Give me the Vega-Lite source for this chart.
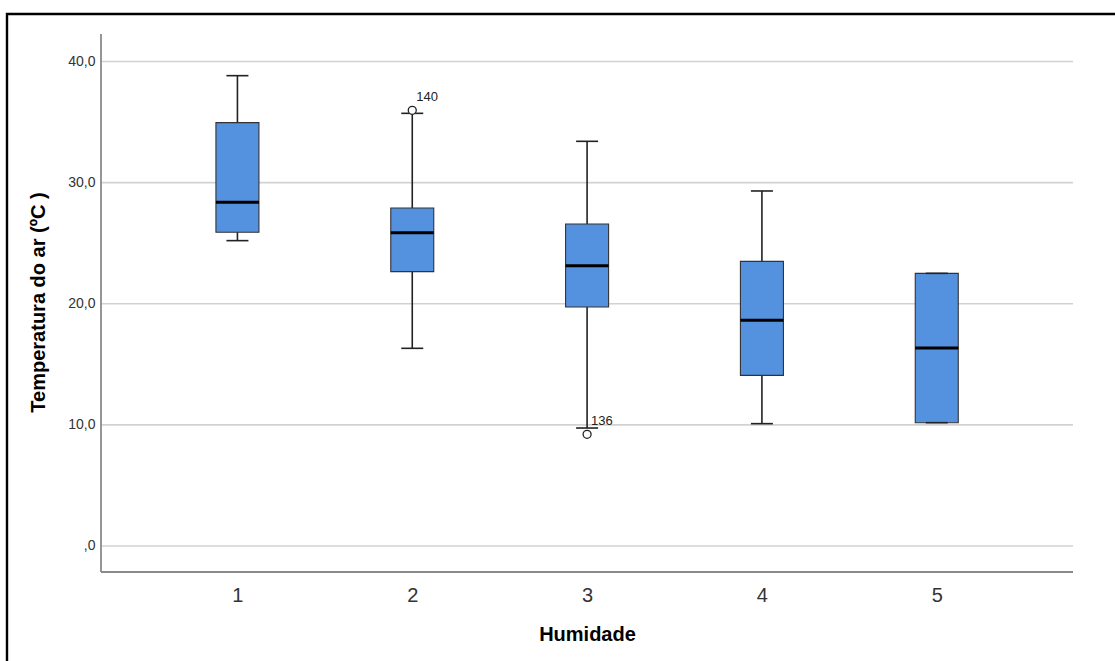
{
  "$schema": "https://vega.github.io/schema/vega-lite/v6.json",
  "width": 1112,
  "height": 651,
  "autosize": {"type": "none"},
  "padding": {"left": 7, "top": 14, "right": -4, "bottom": -4},
  "background": "white",
  "config": {
    "view": {"stroke": "#000000", "strokeWidth": 2.4},
    "font": "Liberation Sans"
  },
  "datasets": {
    "boxes": [
      {"h": 1, "lower": 25.21, "q1": 25.90, "median": 28.37, "q3": 34.95, "upper": 38.83},
      {"h": 2, "lower": 16.32, "q1": 22.65, "median": 25.87, "q3": 27.91, "upper": 35.72},
      {"h": 3, "lower": 9.74, "q1": 19.73, "median": 23.14, "q3": 26.58, "upper": 33.41},
      {"h": 4, "lower": 10.10, "q1": 14.09, "median": 18.63, "q3": 23.50, "upper": 29.31},
      {"h": 5, "lower": 10.18, "q1": 10.18, "median": 16.35, "q3": 22.51, "upper": 22.51}
    ],
    "outliers": [
      {"h": 2, "value": 35.97, "id": "140"},
      {"h": 3, "value": 9.22, "id": "136"}
    ],
    "grid": [{"g": 0}, {"g": 10}, {"g": 20}, {"g": 30}, {"g": 40}]
  },
  "layer": [
    {
      "data": {"name": "grid"},
      "mark": {"type": "rule", "color": "#d2d2d2", "strokeWidth": 1.6},
      "encoding": {
        "y": {
          "field": "g", "type": "quantitative",
          "scale": {"domain": [-9.825, 43.921], "nice": false, "zero": false, "padding": 0},
          "axis": {
            "values": [0, 10, 20, 30, 40],
            "labelExpr": "datum.value == 0 ? ',0' : replace(format(datum.value, '.1f'), '.', ',')",
            "title": "Temperatura do ar (ºC )",
            "offset": -94, "grid": false, "domain": false, "ticks": false,
            "labelFontSize": 14, "labelPadding": 6, "labelColor": "#333333",
            "titleFontSize": 20, "titleFontWeight": "bold", "titleColor": "#000000",
            "titleX": -57, "titleY": 288, "titleAngle": 270, "titleBaseline": "alphabetic", "titleAlign": "center"
          }
        },
        "x": {
          "datum": 0.2196, "type": "quantitative",
          "scale": {"domain": [-0.318, 6.0424], "nice": false, "zero": false, "padding": 0},
          "axis": {
            "values": [1, 2, 3, 4, 5], "format": "d", "title": "Humidade",
            "offset": -93, "grid": false, "domain": false, "ticks": false,
            "labelFontSize": 20, "labelPadding": 13, "labelColor": "#333333",
            "titleFontSize": 20, "titleFontWeight": "bold", "titleColor": "#000000",
            "titleX": 580, "titleY": 68, "titleBaseline": "alphabetic", "titleAlign": "center"
          }
        },
        "x2": {"datum": 5.7793}
      }
    },
    {
      "data": {"values": [{}]},
      "mark": {"type": "rule", "color": "#8a8a8a", "strokeWidth": 1.8},
      "encoding": {
        "x": {"datum": 0.2196, "type": "quantitative"},
        "y": {"datum": -2.147, "type": "quantitative"},
        "y2": {"datum": 42.27}
      }
    },
    {
      "data": {"values": [{}]},
      "mark": {"type": "rule", "color": "#8a8a8a", "strokeWidth": 1.8},
      "encoding": {
        "y": {"datum": -2.147, "type": "quantitative"},
        "x": {"datum": 0.2196, "type": "quantitative"},
        "x2": {"datum": 5.7793}
      }
    },
    {
      "data": {"name": "boxes"},
      "mark": {"type": "rule", "color": "#222222", "strokeWidth": 1.6},
      "encoding": {
        "x": {"field": "h", "type": "quantitative"},
        "y": {"field": "lower", "type": "quantitative"},
        "y2": {"field": "upper"}
      }
    },
    {
      "data": {"name": "boxes"},
      "mark": {"type": "bar", "width": 43, "fill": "#5492E0", "stroke": "#333333", "strokeWidth": 1.1},
      "encoding": {
        "x": {"field": "h", "type": "quantitative"},
        "y": {"field": "q1", "type": "quantitative"},
        "y2": {"field": "q3"}
      }
    },
    {
      "data": {"name": "boxes"},
      "mark": {"type": "tick", "orient": "horizontal", "size": 43, "thickness": 3, "color": "#000000", "opacity": 1},
      "encoding": {
        "x": {"field": "h", "type": "quantitative"},
        "y": {"field": "median", "type": "quantitative"}
      }
    },
    {
      "data": {"name": "boxes"},
      "mark": {"type": "tick", "orient": "horizontal", "size": 22, "thickness": 1.6, "color": "#222222", "opacity": 1},
      "encoding": {
        "x": {"field": "h", "type": "quantitative"},
        "y": {"field": "lower", "type": "quantitative"}
      }
    },
    {
      "data": {"name": "boxes"},
      "mark": {"type": "tick", "orient": "horizontal", "size": 22, "thickness": 1.6, "color": "#222222", "opacity": 1},
      "encoding": {
        "x": {"field": "h", "type": "quantitative"},
        "y": {"field": "upper", "type": "quantitative"}
      }
    },
    {
      "data": {"name": "outliers"},
      "mark": {"type": "point", "shape": "circle", "size": 64, "filled": true, "fill": "#ffffff", "stroke": "#222222", "strokeWidth": 1.3, "opacity": 1},
      "encoding": {
        "x": {"field": "h", "type": "quantitative"},
        "y": {"field": "value", "type": "quantitative"}
      }
    },
    {
      "data": {"name": "outliers"},
      "mark": {"type": "text", "align": "left", "baseline": "alphabetic", "dx": 4, "dy": -9, "fontSize": 13, "color": "#222222"},
      "encoding": {
        "x": {"field": "h", "type": "quantitative"},
        "y": {"field": "value", "type": "quantitative"},
        "text": {"field": "id", "type": "nominal"}
      }
    }
  ]
}
